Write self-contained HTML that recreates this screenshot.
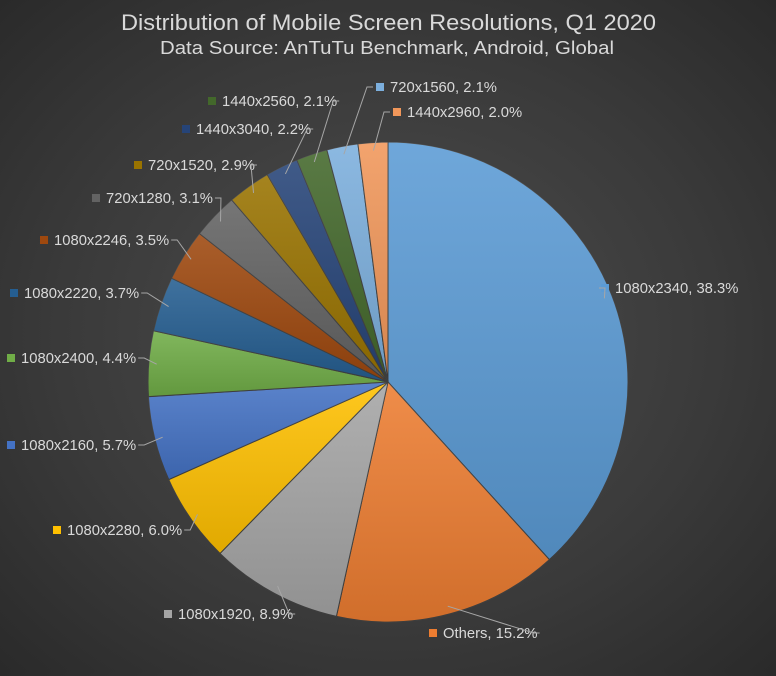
<!DOCTYPE html>
<html><head><meta charset="utf-8"><style>
html,body{margin:0;padding:0;}
body{width:776px;height:671px;overflow:hidden;background:radial-gradient(ellipse at 50% 50%,#4d4d4d 0%,#3a3a3a 60%,#2a2a2a 100%);}
svg text{font-family:"Liberation Sans Narrow","Liberation Sans",sans-serif;fill:#d9d9d9;}
</style></head><body>
<svg id="s" width="776" height="671" xmlns="http://www.w3.org/2000/svg">
<defs><linearGradient id="sh" x1="0" y1="0" x2="0" y2="1"><stop offset="0" stop-color="#fff" stop-opacity="0.12"/><stop offset="1" stop-color="#000" stop-opacity="0.12"/></linearGradient></defs>
<text x="121" y="30" textLength="535" lengthAdjust="spacingAndGlyphs" font-size="22" style="font-family:'Liberation Sans',sans-serif">Distribution of Mobile Screen Resolutions, Q1 2020</text>
<text x="160" y="54" textLength="454" lengthAdjust="spacingAndGlyphs" font-size="18" style="font-family:'Liberation Sans',sans-serif">Data Source: AnTuTu Benchmark, Android, Global</text>
<g id="pie"></g><g id="lab"></g>
</svg>
<script>
var d=[["1080x2340",38.3,"#5b9bd5",601,288],["Others",15.2,"#ed7d31",429,633],["1080x1920",8.9,"#a5a5a5",164,614],["1080x2280",6.0,"#ffc000",53,530],["1080x2160",5.7,"#4472c4",7,445],["1080x2400",4.4,"#70ad47",7,358],["1080x2220",3.7,"#255e91",10,293],["1080x2246",3.5,"#9e480e",40,240],["720x1280",3.1,"#636363",92,198],["720x1520",2.9,"#997300",134,165],["1440x3040",2.2,"#264478",182,129],["1440x2560",2.1,"#43682b",208,101],["720x1560",2.1,"#7cafdd",376,87],["1440x2960",2.0,"#f1975a",393,112]];
var cx=388,cy=382,r=240,NS="http://www.w3.org/2000/svg",pie=document.getElementById("pie"),lab=document.getElementById("lab");
function el(t,a,p){var e=document.createElementNS(NS,t);for(var k in a)e.setAttribute(k,a[k]);p.appendChild(e);return e;}
var tot=100.1,a0=0;
d.forEach(function(s){var a1=a0+s[1]/tot*2*Math.PI;
function pt(a,rr){return [cx+rr*Math.sin(a),cy-rr*Math.cos(a)];}
var p0=pt(a0,r),p1=pt(a1,r),lg=(a1-a0)>Math.PI?1:0;
var dd="M"+cx+","+cy+"L"+p0+"A"+r+","+r+" 0 "+lg+",1 "+p1+"Z";
el("path",{d:dd,fill:s[2],stroke:"#404040","stroke-width":"1"},pie);
el("path",{d:dd,fill:"url(#sh)"},pie);
var am=(a0+a1)/2,e=pt(am,r-8);
el("rect",{x:s[3],y:s[4]-4,width:8,height:8,fill:s[2]},lab);
var t=el("text",{x:s[3]+14,y:s[4]+5,"font-size":"14.8"},lab);t.textContent=s[0]+", "+s[1].toFixed(1)+"%";
var w=t.getComputedTextLength(),lx,ly=s[4];
if(e[0]<s[3]){lx=s[3]-2;}else{lx=s[3]+16+w;}
if(s[0]=="720x1560"||s[0]=="1440x2960"){lx=s[3]-3;}
if(s[0]=="1080x2340"){lx=s[3]-2;}
var mx=lx+(e[0]>lx?6:-6);
el("polyline",{points:lx+","+ly+" "+mx+","+ly+" "+e[0]+","+e[1],fill:"none",stroke:"#a6a6a6","stroke-width":"1"},lab);
a0=a1;});
</script>
</body></html>
